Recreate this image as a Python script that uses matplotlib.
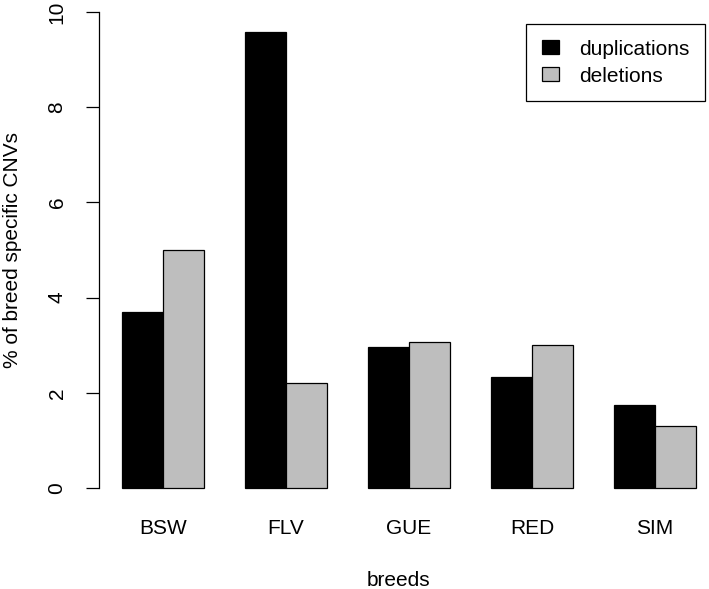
import numpy as np
import matplotlib
matplotlib.use('Agg')
import matplotlib.pyplot as plt

breeds = ['BSW', 'FLV', 'GUE', 'RED', 'SIM']
duplications = [3.70, 9.58, 2.96, 2.33, 1.74]
deletions = [5.00, 2.21, 3.07, 3.00, 1.30]

plt.rcParams['font.family'] = ['Liberation Sans', 'DejaVu Sans']
fs = 15

W, H = 709, 589
fig = plt.figure(figsize=(W / 100, H / 100), dpi=100)
# plot region in pixels, like R's barplot (runs a bit off the right edge)
ax = fig.add_axes([99 / W, (H - 507) / H, 620 / W, 514 / H])

# R beside=TRUE layout: space=c(0,1), width 1
x = np.arange(len(breeds)) * 3 + 1
ax.bar(x, duplications, width=1, align='edge', color='black',
       edgecolor='black', linewidth=0.9, label='duplications')
ax.bar(x + 1, deletions, width=1, align='edge', color='#BEBEBE',
       edgecolor='black', linewidth=0.9, label='deletions')

ax.set_xlim(0.44, 15.56)
ax.set_ylim(-0.4, 10.4)

for s in ['top', 'right', 'bottom']:
    ax.spines[s].set_visible(False)
ax.spines['left'].set_bounds(0, 10)
ax.spines['left'].set_linewidth(0.9)

ax.set_yticks([0, 2, 4, 6, 8, 10])
ax.set_yticklabels(['0', '2', '4', '6', '8', '10'], rotation=90, va='center')
ax.tick_params(axis='y', length=9.4, width=0.9, pad=14, labelsize=fs)
ax.set_xticks(x + 1)
ax.set_xticklabels(breeds)
ax.tick_params(axis='x', length=0, pad=9, labelsize=fs)

fig.text(13 / W, 1 - 250 / H, '% of breed specific CNVs', rotation=90,
         ha='center', va='center', fontsize=fs)
fig.text(398 / W, 1 - 580 / H, 'breeds', ha='center', va='center', fontsize=fs)

leg = ax.legend(loc='upper left', bbox_to_anchor=(526 / W, 1 - 24 / H),
                bbox_transform=fig.transFigure, fancybox=False, framealpha=1,
                edgecolor='black', fontsize=fs, handlelength=0.82,
                handleheight=0.67, borderpad=0.75, labelspacing=0.38,
                handletextpad=0.96, borderaxespad=0)
leg.get_frame().set_linewidth(0.9)

fig.savefig('out.png', dpi=100)
